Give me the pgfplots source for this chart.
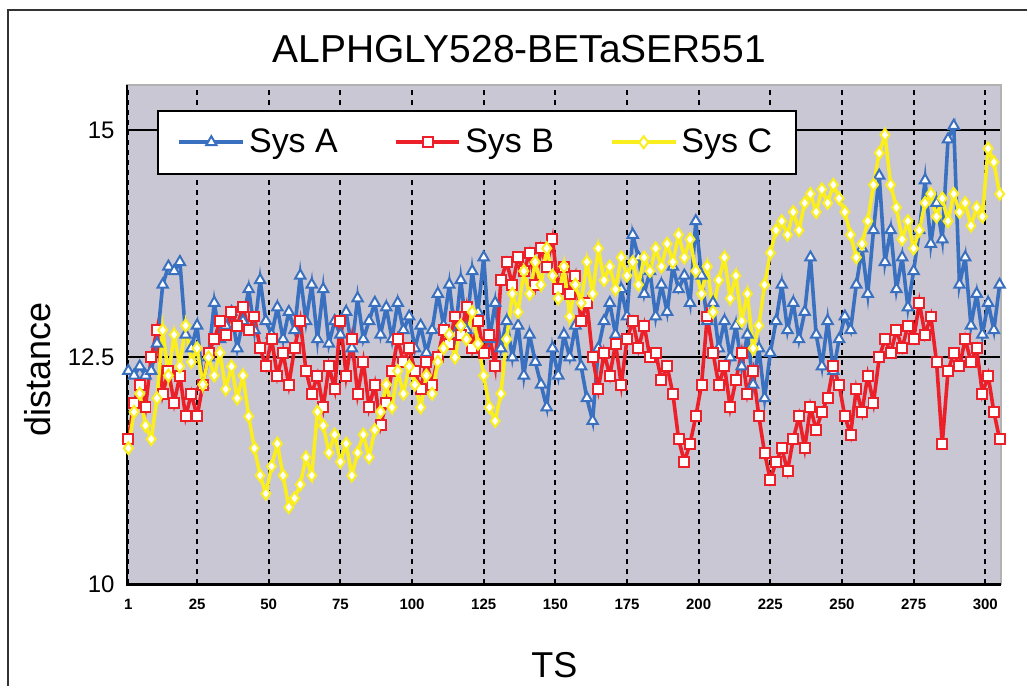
\documentclass[border=0pt]{standalone}
\usepackage{pgfplots}
\pgfplotsset{compat=1.18}
\usepackage{pgfplotstable}
\usepackage{fontspec}
\setmainfont{Liberation Sans}

\definecolor{sysA}{RGB}{58,112,192}
\definecolor{sysB}{RGB}{236,32,40}
\definecolor{sysC}{RGB}{250,238,30}
\definecolor{plotbg}{RGB}{201,199,212}

% distance per time step (every second step), Sys A / B / C
\pgfplotstableread{
ts a b c
1 12.35 11.60 11.50
3 12.30 12.00 11.90
5 12.40 12.20 12.10
7 12.30 11.95 11.75
9 12.35 12.50 11.60
11 12.65 12.80 12.05
13 13.30 12.10 12.80
15 13.50 12.35 12.30
17 13.45 12.00 12.75
19 13.55 12.30 12.40
21 12.75 11.85 12.85
23 12.60 12.10 12.45
25 12.85 11.85 12.60
27 12.20 12.20 12.20
29 12.50 12.55 12.50
31 13.10 12.70 12.30
33 12.70 12.90 12.55
35 12.85 12.75 12.15
37 13.00 13.00 12.40
39 12.60 12.85 12.05
41 12.90 13.05 12.30
43 13.25 12.80 11.85
45 12.80 12.95 11.50
47 13.35 12.60 11.20
49 12.90 12.40 11.00
51 12.75 12.70 11.30
53 13.05 12.30 11.55
55 12.70 12.55 11.20
57 13.00 12.20 10.85
59 12.80 12.60 10.95
61 13.40 12.90 11.10
63 12.90 12.35 11.40
65 13.30 12.10 11.20
67 12.70 12.30 11.90
69 13.25 11.95 11.75
71 12.65 12.40 11.45
73 12.90 12.15 11.65
75 12.75 12.90 11.35
77 13.00 12.30 11.55
79 12.60 12.70 11.20
81 13.15 12.10 11.45
83 12.70 12.45 11.65
85 12.90 11.95 11.40
87 13.10 12.20 11.70
89 12.75 11.75 11.90
91 13.05 12.00 12.20
93 12.70 12.35 11.95
95 13.10 12.70 12.35
97 12.80 12.45 12.10
99 12.95 12.60 12.40
101 12.60 12.35 12.20
103 12.85 12.15 11.95
105 12.55 12.45 12.30
107 12.80 12.20 12.10
109 13.20 12.50 12.45
111 12.85 12.80 12.60
113 13.30 12.65 12.75
115 12.75 12.95 12.50
117 13.35 12.75 12.85
119 12.80 13.05 12.70
121 13.45 12.60 13.00
123 13.00 12.90 12.65
125 13.60 12.55 12.30
127 12.70 12.75 11.95
129 13.10 12.40 11.80
131 12.60 13.35 12.10
133 12.90 13.55 12.70
135 12.50 13.30 13.20
137 12.85 13.60 13.00
139 12.30 13.45 13.45
141 12.75 13.65 13.20
143 12.45 13.30 13.55
145 12.20 13.70 13.30
147 11.95 13.50 13.70
149 12.60 13.80 13.40
151 12.30 13.25 13.15
153 12.75 13.50 13.50
155 12.50 13.20 12.95
157 12.85 13.40 13.30
159 12.40 12.90 13.10
161 12.05 13.10 13.55
163 11.80 12.50 13.20
165 12.60 12.15 13.70
167 12.90 12.55 13.35
169 13.10 12.30 13.50
171 12.75 12.65 13.25
173 13.25 12.20 13.60
175 12.95 12.70 13.40
177 13.85 12.90 13.55
179 13.60 12.60 13.30
181 13.20 12.85 13.60
183 13.45 12.50 13.45
185 12.95 12.55 13.70
187 13.30 12.25 13.50
189 13.00 12.40 13.75
191 13.50 12.10 13.55
193 13.25 11.60 13.85
195 13.40 11.35 13.60
197 13.10 11.55 13.80
199 14.00 11.85 13.45
201 13.40 12.20 13.20
203 12.90 12.95 13.50
205 13.10 12.55 13.00
207 12.60 12.20 13.35
209 12.90 12.40 13.60
211 12.50 11.95 13.15
213 12.85 12.25 13.40
215 12.40 12.55 12.90
217 12.75 12.10 13.20
219 12.20 12.35 12.60
221 12.60 11.85 12.85
223 12.05 11.45 13.30
225 12.55 11.15 13.65
227 12.90 11.35 13.90
229 13.30 11.50 14.00
231 12.80 11.25 13.85
233 13.10 11.60 14.10
235 12.70 11.85 13.90
237 13.00 11.50 14.20
239 13.60 11.95 14.30
241 12.75 11.70 14.10
243 12.40 11.90 14.35
245 12.90 12.05 14.20
247 12.35 12.40 14.40
249 12.70 12.20 14.25
251 12.95 11.85 14.10
253 12.80 11.65 13.85
255 13.30 12.15 13.60
257 13.70 11.90 13.75
259 13.20 12.30 14.00
261 13.90 12.00 14.40
263 14.50 12.50 14.75
265 13.55 12.70 14.95
267 13.90 12.55 14.40
269 13.25 12.80 14.15
271 13.60 12.60 13.80
273 13.05 12.85 14.00
275 13.45 12.70 13.70
277 13.90 13.10 13.90
279 14.45 12.75 14.20
281 13.75 12.95 14.30
283 14.20 12.45 14.05
285 13.80 11.55 14.25
287 14.90 12.35 14.00
289 15.05 12.55 14.30
291 13.30 12.40 14.10
293 13.60 12.70 14.20
295 12.85 12.45 13.95
297 13.20 12.60 14.15
299 12.75 12.10 14.05
301 13.10 12.30 14.80
303 12.80 11.90 14.65
305 13.30 11.60 14.30
}\dist

\begin{document}
\begin{tikzpicture}
% page background and outer chart frame
\fill[white] (-63.5pt,-51pt) rectangle (450.5pt,292.5pt);
\draw[line width=1pt, black!80] (-59.5pt,-51pt) -- (-59.5pt,287.5pt) -- (450.5pt,287.5pt);
\begin{axis}[
    scale only axis,
    width=437.5pt, height=250pt,
    xmin=0.5, xmax=305.5,
    ymin=10, ymax=15.5,
    clip=false,
    axis background/.style={fill=plotbg},
    axis line style={draw=gray!60, line width=0.6pt},
    major tick length=0pt,
    xtick={1,25,50,75,100,125,150,175,200,225,250,275,300},
    ytick={10,12.5,15},
    yticklabels={10,12.5,15},
    /pgf/number format/assume math mode=true,
    xticklabel style={font=\fontsize{7.5}{8}\selectfont\bfseries, inner sep=0pt, yshift=-7pt},
    yticklabel style={font=\fontsize{12}{14}\selectfont, inner sep=0pt, xshift=-6pt},
    xmajorgrids, ymajorgrids,
    major x grid style={black, line width=0.9pt, dash pattern=on 2.5pt off 2.5pt},
    major y grid style={black, line width=1pt},
    title={ALPHGLY528-BETaSER551},
    title style={at={(axis description cs:0.449,1)}, anchor=base, yshift=5pt,
        font=\fontsize{19.5}{22}\selectfont},
    xlabel={TS},
    xlabel style={at={(axis description cs:0.489,0)}, anchor=base, yshift=-46.5pt,
        font=\fontsize{18}{20}\selectfont},
    ylabel={distance},
    ylabel style={at={(axis description cs:-0.1017,0.43)}, anchor=center,
        font=\fontsize{18}{20}\selectfont},
    legend columns=3,
    legend style={at={(axis description cs:0.034,0.95)}, anchor=north west,
        draw=black, line width=1pt, fill=white,
        font=\fontsize{17}{20}\selectfont,
        inner xsep=10pt, inner ysep=7pt,
        /tikz/every even column/.append style={column sep=26pt}},
    legend image code/.code={%
        \draw[mark repeat=2, mark phase=2, #1]
            plot coordinates {(0pt,0pt) (16pt,0pt) (32pt,0pt)};},
]
\addplot[color=sysA, line width=1.8pt, mark=triangle*, mark size=3pt,
    mark options={fill=white, line width=1pt, solid}] table[x=ts, y=a] {\dist};
\addplot[color=sysB, line width=1.8pt, mark=square*, mark size=2.5pt,
    mark options={fill=white, line width=1pt, solid}] table[x=ts, y=b] {\dist};
\addplot[color=sysC, line width=1.8pt, mark=diamond*, mark size=3pt,
    mark options={fill=white, line width=1pt, solid}] table[x=ts, y=c] {\dist};
\draw[black, line width=1.2pt] (rel axis cs:0,1) -- (rel axis cs:0,0) -- (rel axis cs:1,0);
\legend{Sys A, Sys B, Sys C}
\end{axis}
\end{tikzpicture}
\end{document}
